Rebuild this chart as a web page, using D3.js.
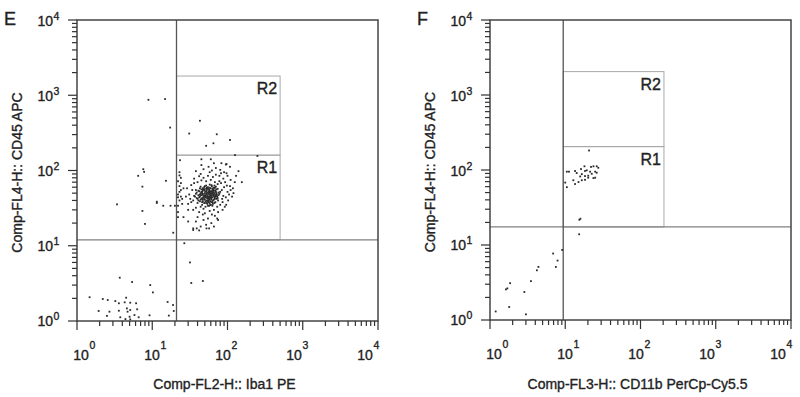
<!DOCTYPE html>
<html>
  <head>
    <title> Flow cytometry gates E / F </title>
    <meta charset="utf-8">
    <style>
    body { margin: 0; border: 0; overflow: hidden; background: #fff; }
    text {
      font-family: "Liberation Sans", Arial, sans-serif;
      fill: #222;
      stroke: #222;
      stroke-width: 0.35px;
    }
    .frame { fill: none; stroke: #444; stroke-width: 1.5; }
    .gate-v { stroke: #555; stroke-width: 1.3; }
    .gate-h { stroke: #808080; stroke-width: 1.2; }
    .region { fill: none; stroke: #a8a8a8; stroke-width: 1; }
    .dot { fill: #2b2b2b; }
    .tk { fill: #333; }
    </style>
  </head>
  <body>
    <script src="https://cdnjs.cloudflare.com/ajax/libs/d3/7.8.5/d3.min.js"></script>
    <script>
// decades shown on both axes
var tickExps = [0, 1, 2, 3, 4];

// panel E : Iba1 PE vs CD45 APC  ([x, y] events)
var eCluster = [
  [45,52],[52,48],[58,41],[63,55],[49,37],[67,44],[55,60],[71,50],[43,45],[60,35],
  [38,49],[54,43],[62,62],[47,58],[69,38],[57,51],[51,33],[74,57],[41,40],[66,48],
  [59,46],[48,44],[53,55],[64,40],[44,61],[72,42],[56,38],[50,50],[61,53],[46,35],
  [39,43],[68,59],[55,45],[42,53],[76,47],[58,65],[49,42],[63,34],[52,57],[70,52],
  [47,48],[60,44],[54,36],[65,51],[43,39],[57,56],[50,41],[73,45],[45,56],[62,47],
  [36,46],[59,39],[67,63],[53,49],[48,31],[80,52],[56,43],[41,47],[64,58],[51,46],
  [58,52],[46,43],[69,47],[55,34],[44,50],[61,41],[50,62],[75,40],[40,37],[66,54],
  [53,40],[57,48],[49,54],[63,44],[47,39],[71,56],[54,51],[60,58],[45,47],[68,42],
  [38,55],[52,44],[59,35],[65,46],[43,58],[56,53],[50,37],[78,49],[62,50],[48,46],
  [35,40],[55,42],[61,64],[46,52],[70,45],[53,59],[58,37],[42,44],[67,50],[51,39],
  [84,55],[64,36],[57,45],[49,49],[44,33],[72,48],[54,47],[60,52],[47,55],[66,41],
  [39,51],[58,43],[52,52],[63,49],[45,42],[55,57],[69,54],[50,45],[74,43],[41,54],
  [88,46],[56,40],[48,57],[62,38],[53,44],[59,49],[46,38],[65,56],[51,53],[57,34],
  [43,48],[70,61],[54,39],[61,46],[37,45],[67,37],[49,60],[58,54],[44,41],[76,51],
  [32,42],[34,55],[30,36],[33,64],[35,30],[90,60],[95,44],[86,38],[100,52],[105,48],
  [92,33],[82,68],[78,72],[40,70],[45,74],[52,72],[60,75],[68,70],[74,66],[36,68],
  [42,28],[50,27],[58,29],[66,30],[73,33],[80,35],[38,32],[47,26],[62,26],[85,42],
  [31,48],[29,58],[98,63],[110,55],[115,45],[120,50],[93,70],[88,78],[64,82],[55,85],
  [48,80],[42,84],[70,88],[78,85],[36,78],[33,38],[102,40],[96,35],[40,24],[55,23],
  [68,25],[75,28],[86,30],[108,62],[118,58],[30,30],[28,45],[44,90],[58,95],[82,92],
  [22,34],[23,40],[22,48],[24,55],[23,62],[22,72],[24,80],[23,95],[22,28],[24,45],
  [23,52],[25,36],[22,24],[24,68],[23,86],[26,58],[25,42],[22,44],
  [38,21],[44,18],[52,19],[61,20],[35,17],[48,22],[73,23],[42,16],[57,17],[66,18],
  [26,24],[30,21],
  [62,100],[48,104],[70,108],[90,95],[100,85],[56,112],[38,98],[80,102],[110,75],[125,70],
  [45,118],[66,125],[95,120],[140,98],[130,85],
  [50,46],[56,50],[61,43],[47,41],[53,37],[64,52],[58,59],[44,47],[68,45],[52,63],
  [40,42],[60,49],[55,39],[49,56],[71,47],[46,50],[63,38],[57,42],[51,44],[66,59]
];
var eSparse = [
  [8.9,870],[14.8,890],[17.3,372],[43,458],[31,310],[72,303],[108,255],[52,213],[65,230],
  [7.6,104],[7.8,96],[6.5,85],[7.4,61],[15.2,73],[155,70],[45,141],[60,141],[83,125],
  [97,92],[23.4,137],[126,160],[250,156],[3.4,35.5],[7.4,29],[8,19.5],[11.5,37],[14,34],
  [17.5,34],[20,34],[19,14.9],[26.7,10.8],[31.7,6.0],[33,3.2],[47,3.4],[11.5,38.5],
  [35,16.2],[39,17],[52.6,17],[75,22],[97,122],[108,112]
];
var eLow = [
  [3.7,3.76],[5.4,3.3],[9.4,3.0],[10.2,2.4],[1.47,2.07],[2.2,1.96],[2.56,1.9],[3.23,1.84],
  [3.6,1.72],[4.3,1.77],[4.5,2.04],[5.1,1.75],[6.1,1.72],[1.94,1.36],[2.7,1.33],[3.6,1.37],
  [4.6,1.47],[4.7,1.33],[5.1,1.4],[6.3,1.43],[2.5,1.17],[3.76,1.12],[5.0,1.14],[5.1,1.05],
  [6.6,1.12],[9.2,1.19],[16,1.79],[18.9,1.63],[19.3,1.36],[16.6,1.18],[4.4,1.06],[5.8,1.2]
];

// panel F : CD11b PerCp-Cy5.5 vs CD45 APC
var fEvents = [
  [10.5,95],[11.2,95],[13.5,97],[14.2,91],[16.2,103],[18,112],[19.3,99],[22,110],[23.7,112],
  [26.2,112],[27.5,107],[16.6,88],[18.3,83],[20.2,84],[22.5,89],[25,95],[26.2,92],[12.8,73],
  [15,69],[13.5,65],[16.6,73],[18.3,74],[20.2,79],[23.7,78],[25,79],[10,68],[10.5,59],
  [18.3,97],[15.8,82],[21.4,95],[20.7,182],
  [15.4,21.7],[15.9,22.4],[15.3,13.9],
  [9.1,8.6],[6.9,7.7],[7.9,6.2],[7.5,5.1],[4.2,4.6],[4.4,5.1],[3.5,3.3],[2.86,2.36],
  [1.85,3.1],[1.63,2.56],[1.7,2.64],[1.8,1.49],[1.19,1.3],[3.0,1.19]
];

// gates: quadrant cut and R1 / R2 boxes [xmin, xmax, ymin, ymax]
var eGate = [21, 12], eR1 = [21, 500, 12, 160], eR2 = [21, 500, 160, 1800];
var fGate = [9.4, 17.4], fR1 = [9.4, 205, 17.4, 205], fR2 = [9.4, 205, 205, 2050];

var svg = d3.select("body").append("svg")
    .attr("width", 800)
    .attr("height", 397);

function drawPanel(p) {
  var x = d3.scaleLog().domain([1, 1e4]).range([p.left, p.right]),
      y = d3.scaleLog().domain([1, 1e4]).range([p.bottom, p.top]);
  var isMajor = function(d) { return Math.abs(Math.log10(d) - Math.round(Math.log10(d))) < 1e-6; };

  var g = svg.append("g");

  // tick labels 10^n (the original spaces them a little tighter than the ticks)
  var lx = d3.scaleLinear().domain([0, 4]).range([p.left + 4, p.right - 13]),
      ly = d3.scaleLinear().domain([0, 4]).range([p.bottom + 5, p.top + 6]);

  tickExps.forEach(function(e) {
    g.append("text").attr("x", lx(e)).attr("y", p.bottom + 39)
      .attr("text-anchor", "middle").style("font-size", "14px").text("10");
    g.append("text").attr("x", lx(e) + 8.5).attr("y", p.bottom + 28)
      .style("font-size", "10.5px").text(e);
    g.append("text").attr("x", p.left - 24).attr("y", ly(e))
      .attr("text-anchor", "end").style("font-size", "14px").text("10");
    g.append("text").attr("x", p.left - 23.5).attr("y", ly(e) - 6)
      .style("font-size", "10.5px").text(e);
  });

  // R2 / R1 regions
  [p.r2, p.r1].forEach(function(r, i) {
    g.append("rect").attr("class", "region")
      .attr("x", x(r[0])).attr("y", y(r[3]))
      .attr("width", x(r[1]) - x(r[0])).attr("height", y(r[2]) - y(r[3]));
    g.append("text")
      .attr("x", x(r[1]) - 3).attr("y", y(r[3]) + 18)
      .attr("text-anchor", "end")
      .style("font-size", "16px")
      .text(i == 0 ? "R2" : "R1");
  });

  // quadrant cut
  g.append("line").attr("class", "gate-h")
    .attr("x1", p.left).attr("x2", p.right)
    .attr("y1", y(p.gate[1])).attr("y2", y(p.gate[1]));
  g.append("line").attr("class", "gate-v")
    .attr("x1", x(p.gate[0])).attr("x2", x(p.gate[0]))
    .attr("y1", p.top).attr("y2", p.bottom);

  g.selectAll("rect.dot")
    .data(p.events)
    .enter()
    .append("rect")
    .attr("class", "dot")
    .attr("x", function(d) { return x(d[0]) - 0.9; })
    .attr("y", function(d) { return y(d[1]) - 0.9; })
    .attr("width", 1.8)
    .attr("height", 1.8);

  g.append("rect").attr("class", "frame")
    .attr("x", p.left).attr("y", p.top)
    .attr("width", p.right - p.left).attr("height", p.bottom - p.top);

  // log ticks (1..9 per decade) as thin filled bars, decades longer, pointing outwards
  g.selectAll("rect.xtk")
    .data(x.ticks())
    .enter()
    .append("rect")
    .attr("class", "tk")
    .attr("x", function(d) { return x(d) - 0.6; })
    .attr("y", p.bottom)
    .attr("width", 1.2)
    .attr("height", function(d) { return isMajor(d) ? 9 : 5; });

  g.selectAll("rect.ytk")
    .data(y.ticks())
    .enter()
    .append("rect")
    .attr("class", "tk")
    .attr("x", function(d) { return p.left - (isMajor(d) ? 9 : 5); })
    .attr("y", function(d) { return y(d) - 0.6; })
    .attr("width", function(d) { return isMajor(d) ? 9 : 5; })
    .attr("height", 1.2);

  // titles
  g.append("text")
    .attr("x", (p.left + p.right) / 2 - 3).attr("y", 389)
    .attr("text-anchor", "middle").style("font-size", "14px")
    .text(p.xTitle);
  g.append("text")
    .attr("transform", "translate(" + (p.left - 55) + "," + ((p.top + p.bottom) / 2 + 2) + ") rotate(-90)")
    .attr("text-anchor", "middle").style("font-size", "14px")
    .text(p.yTitle);
  g.append("text")
    .attr("x", p.left - 73).attr("y", 25)
    .style("font-size", "18px")
    .text(p.letter);
}

drawPanel({
  letter: "E", left: 77, right: 378, top: 20, bottom: 321,
  events: eCluster.concat(eSparse, eLow), gate: eGate, r1: eR1, r2: eR2,
  xTitle: "Comp-FL2-H:: Iba1 PE", yTitle: "Comp-FL4-H:: CD45 APC"
});
drawPanel({
  letter: "F", left: 490, right: 791, top: 20, bottom: 320,
  events: fEvents, gate: fGate, r1: fR1, r2: fR2,
  xTitle: "Comp-FL3-H:: CD11b PerCp-Cy5.5", yTitle: "Comp-FL4-H:: CD45 APC"
});
    </script>
  </body>
</html>
